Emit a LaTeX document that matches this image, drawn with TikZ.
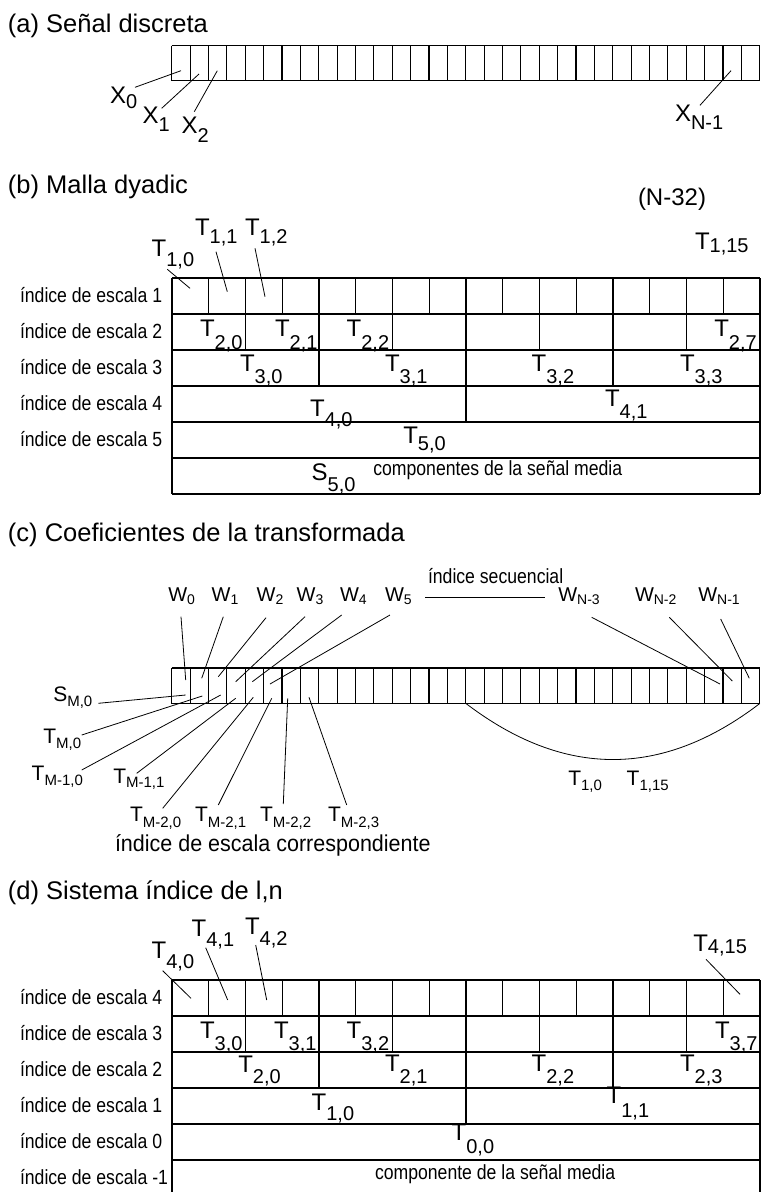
\documentclass[tikz,border=0pt]{standalone}
\usepackage{fontspec}
\setmainfont{Liberation Sans}
\newfontfamily\condf[FakeStretch=0.86]{Liberation Sans}
\newfontfamily\condg[FakeStretch=0.935]{Liberation Sans}
\newcommand\LabG[5]{{\fontsize{#3}{#3}\selectfont #1\raisebox{-#5pt}{\fontsize{#4}{#4}\selectfont #2}}}
\newcommand\LabB[3]{\LabG{#1}{#2}{24}{20}{#3}}
\newcommand\LabS[3]{\LabG{#1}{#2}{21}{15}{#3}}
\newcommand\LabW[2]{\LabG{W}{#1}{20}{14}{#2}}
\newcommand\DyGrid[2]{%
  \foreach \r in {0,...,5} \draw[gridl] (172,{#1+\r*36}) -- (760,{#1+\r*36});
  \draw[gridl] (172,#1) -- (172,#2) (760,#1) -- (760,#2);
  \foreach \i in {1,...,15} \draw[gridl] ({172+\i*36.75},#1) -- ({172+\i*36.75},{#1+36});
  \foreach \i in {2,4,...,14} \draw[gridl] ({172+\i*36.75},{#1+36}) -- ({172+\i*36.75},{#1+72});
  \foreach \i in {4,8,12} \draw[gridl] ({172+\i*36.75},{#1+72}) -- ({172+\i*36.75},{#1+108});
  \draw[gridl] (466,{#1+108}) -- (466,{#1+144});
}
\newcommand\Strip[2]{%
  \foreach \i in {0,...,32} \draw[gridl] ({171.7+\i*18.378},#1) -- ({171.7+\i*18.378},#2);
  \draw[gridl] (171.7,#1) -- (759.8,#1) (171.7,#2) -- (759.8,#2);
}
\tikzset{
  lb/.style={inner sep=0pt, outer sep=0pt, anchor=base west},
  ttl/.style={lb, font=\fontsize{25.5}{25.5}\selectfont},
  rowl/.style={lb, font=\condf\fontsize{20.5}{20.5}\selectfont},
  gridl/.style={line width=1.1pt},
  lead/.style={line width=0.8pt},
}
\begin{document}
\begin{tikzpicture}[x=1pt,y=-1pt]
\useasboundingbox[fill=white] (0,0) rectangle (761,1192);

% ---------------- (a)
\node[ttl] (ta) at (8,32.3) {(a) Señal discreta};
\Strip{45.7}{80.7}
\node[lb] (x0) at (110,103.3) {\LabB{X}{0}{5}};
\node[lb] (x1) at (142.7,123.3) {\LabB{X}{1}{8}};
\node[lb] (x2) at (181.7,133.3) {\LabB{X}{2}{9}};
\node[lb] (xn) at (675,121.7) {\LabB{X}{N-1}{8}};
\coordinate (x0s) at (135,87.3);  \coordinate (x0e) at (181,70.7);
\coordinate (x1s) at (161.7,108.3); \coordinate (x1e) at (199,74);
\coordinate (x2s) at (194.3,111.7); \coordinate (x2e) at (217.3,70.7);
\coordinate (xns) at (700,105.3); \coordinate (xne) at (731,70.7);
\draw[lead] (x0s) -- (x0e);
\draw[lead] (x1s) -- (x1e);
\draw[lead] (x2s) -- (x2e);
\draw[lead] (xns) -- (xne);

% ---------------- (b)
\node[ttl] (tb) at (8,193) {(b) Malla dyadic};
\node[lb, font=\fontsize{24}{24}\selectfont] (n32) at (638,205) {(N-32)};
\DyGrid{278}{494}
\draw[gridl] (172,494) -- (760,494);
\node[rowl] (rb1) at (20,302) {índice de escala 1};
\node[rowl] (rb2) at (20,338) {índice de escala 2};
\node[rowl] (rb3) at (20,374) {índice de escala 3};
\node[rowl] (rb4) at (20,410) {índice de escala 4};
\node[rowl] (rb5) at (20,446) {índice de escala 5};
\node[lb] (t10) at (151.7,256.7) {\LabB{T}{1,0}{10}};
\node[lb] (t11) at (195,235) {\LabB{T}{1,1}{8}};
\node[lb] (t12) at (245,235) {\LabB{T}{1,2}{8}};
\node[lb] (t115) at (695,249.3) {\LabB{T}{1,15}{3}};
\coordinate (t10s) at (167.3,269.3); \coordinate (t10e) at (190,288.3);
\coordinate (t11s) at (216,251.7); \coordinate (t11e) at (227.3,291.7);
\coordinate (t12s) at (255,248.3); \coordinate (t12e) at (265,296.7);
\draw[lead] (t10s) -- (t10e);
\draw[lead] (t11s) -- (t11e);
\draw[lead] (t12s) -- (t12e);
\node[lb] (t20) at (200,336) {\LabB{T}{2,0}{13}};
\node[lb] (t21) at (275,336) {\LabB{T}{2,1}{13}};
\node[lb] (t22) at (346.7,336) {\LabB{T}{2,2}{13}};
\node[lb] (t27) at (714.3,336) {\LabB{T}{2,7}{13}};
\node[lb] (t30) at (240,371.7) {\LabB{T}{3,0}{12}};
\node[lb] (t31) at (385,371.7) {\LabB{T}{3,1}{12}};
\node[lb] (t32) at (531.7,371.7) {\LabB{T}{3,2}{12}};
\node[lb] (t33) at (680,371.7) {\LabB{T}{3,3}{12}};
\node[lb] (t40) at (310,416.7) {\LabB{T}{4,0}{10}};
\node[lb] (t41) at (605,406.7) {\LabB{T}{4,1}{11.5}};
\node[lb] (t50) at (403.3,443.3) {\LabB{T}{5,0}{7}};
\node[lb] (s50) at (311.7,480) {\LabB{S}{5,0}{11}};
\node[rowl] (compb) at (373.3,475) {componentes de la señal media};

% ---------------- (c)
\node[ttl] (tc) at (8,541) {(c) Coeficientes de la transformada};
\node[rowl] (isec) at (428,583.3) {índice secuencial};
\Strip{668}{703.5}
\node[lb] (w0) at (168.3,601) {\LabW{0}{3}};
\node[lb] (w1) at (211.7,601) {\LabW{1}{3}};
\node[lb] (w2) at (256.7,601) {\LabW{2}{3}};
\node[lb] (w3) at (296.7,601) {\LabW{3}{3}};
\node[lb] (w4) at (340,601) {\LabW{4}{3}};
\node[lb] (w5) at (385,601) {\LabW{5}{3}};
\node[lb] (wn3) at (558.3,601) {\LabW{N-3}{3}};
\node[lb] (wn2) at (635,601) {\LabW{N-2}{3}};
\node[lb] (wn1) at (698.3,601) {\LabW{N-1}{3}};
\coordinate (wls) at (425,597.3); \coordinate (wle) at (545,597.3);
\draw[lead] (wls) -- (wle);
\coordinate (w0s) at (181,616.7);  \coordinate (w0e) at (185.7,680);
\coordinate (w1s) at (223.3,616.7); \coordinate (w1e) at (201.7,678.3);
\coordinate (w2s) at (266,617.7);  \coordinate (w2e) at (218.3,676.7);
\coordinate (w3s) at (305,616.7);  \coordinate (w3e) at (235.7,681.7);
\coordinate (w4s) at (341.7,615);  \coordinate (w4e) at (252.3,681.7);
\coordinate (w5s) at (390,615);    \coordinate (w5e) at (270,684);
\coordinate (wn3s) at (591.7,617.3); \coordinate (wn3e) at (720,684);
\coordinate (wn2s) at (669.3,617.3); \coordinate (wn2e) at (732.3,681);
\coordinate (wn1s) at (720.7,619);   \coordinate (wn1e) at (749.3,678.3);
\foreach \p in {w0,w1,w2,w3,w4,w5,wn3,wn2,wn1} \draw[lead] (\p s) -- (\p e);
\node[lb] (sm0) at (53.3,701.7) {\LabS{S}{M,0}{5}};
\node[lb] (tm0) at (43.3,743.3) {\LabS{T}{M,0}{5.5}};
\node[lb] (tm10) at (31.7,780.7) {\LabS{T}{M-1,0}{5}};
\node[lb] (tm11) at (113.3,783.3) {\LabS{T}{M-1,1}{4}};
\node[lb] (tm20) at (130,821.7) {\LabS{T}{M-2,0}{6}};
\node[lb] (tm21) at (195,821.7) {\LabS{T}{M-2,1}{6}};
\node[lb] (tm22) at (260,821.7) {\LabS{T}{M-2,2}{6}};
\node[lb] (tm23) at (328,821.7) {\LabS{T}{M-2,3}{6}};
\coordinate (sm0s) at (98.3,703.3); \coordinate (sm0e) at (185.7,695);
\coordinate (tm0s) at (81.7,735);   \coordinate (tm0e) at (202.3,696);
\coordinate (tm10s) at (81.7,770);  \coordinate (tm10e) at (220.7,695);
\coordinate (tm11s) at (136.7,773.3); \coordinate (tm11e) at (235.7,698.3);
\coordinate (tm20s) at (162.7,808.3); \coordinate (tm20e) at (253.3,697.3);
\coordinate (tm21s) at (218.3,805);   \coordinate (tm21e) at (271.7,698.3);
\coordinate (tm22s) at (283.3,804);   \coordinate (tm22e) at (287.7,698.3);
\coordinate (tm23s) at (346.7,805);   \coordinate (tm23e) at (309,697.3);
\foreach \p in {sm0,tm0,tm10,tm11,tm20,tm21,tm22,tm23} \draw[lead] (\p s) -- (\p e);
\coordinate (arcs) at (466,703.5); \coordinate (arce) at (759.8,703.5);
\draw[lead] (arcs) .. controls (564,778.2) and (662,778.2) .. (arce);
\node[lb] (c10) at (568.3,785) {\LabS{T}{1,0}{5}};
\node[lb] (c115) at (626.7,785) {\LabS{T}{1,15}{5}};
\node[lb, font=\condg\fontsize{23}{23}\selectfont] (iesc) at (115,851.7) {índice de escala correspondiente};

% ---------------- (d)
\node[ttl] (td) at (8,899) {(d) Sistema índice de l,n};
\DyGrid{980}{1192}
\node[rowl] (rd4) at (20,1004) {índice de escala 4};
\node[rowl] (rd3) at (20,1040) {índice de escala 3};
\node[rowl] (rd2) at (20,1076) {índice de escala 2};
\node[rowl] (rd1) at (20,1112) {índice de escala 1};
\node[rowl] (rd0) at (20,1148) {índice de escala 0};
\node[rowl] (rdm) at (20,1184) {índice de escala -1};
\node[lb] (u40) at (151.7,958.3) {\LabB{T}{4,0}{10}};
\node[lb] (u41) at (191.7,936.7) {\LabB{T}{4,1}{10}};
\node[lb] (u42) at (245,934) {\LabB{T}{4,2}{11}};
\node[lb] (u415) at (693.3,951.7) {\LabB{T}{4,15}{2}};
\coordinate (u40s) at (162.7,970.7); \coordinate (u40e) at (191,998.3);
\coordinate (u41s) at (205.7,947.7); \coordinate (u41e) at (227.7,1000);
\coordinate (u42s) at (255.7,945);   \coordinate (u42e) at (266.7,1000);
\coordinate (u415s) at (706,959.3);  \coordinate (u415e) at (740,994.3);
\foreach \p in {u40,u41,u42,u415} \draw[lead] (\p s) -- (\p e);
\node[lb] (u30) at (200,1038.3) {\LabB{T}{3,0}{12.5}};
\node[lb] (u31) at (274,1038.3) {\LabB{T}{3,1}{12.5}};
\node[lb] (u32) at (346.7,1038.3) {\LabB{T}{3,2}{12.5}};
\node[lb] (u37) at (715,1038.3) {\LabB{T}{3,7}{12.5}};
\node[lb] (u20) at (238.3,1072) {\LabB{T}{2,0}{11}};
\node[lb] (u21) at (385,1071) {\LabB{T}{2,1}{12}};
\node[lb] (u22) at (531.7,1071) {\LabB{T}{2,2}{12}};
\node[lb] (u23) at (680,1071) {\LabB{T}{2,3}{12}};
\node[lb] (u10) at (311.7,1110) {\LabB{T}{1,0}{10}};
\node[lb] (u11) at (606.7,1103) {\LabB{T}{1,1}{14}};
\node[lb] (u00) at (451.7,1140) {\LabB{T}{0,0}{13}};
\node[rowl] (compd) at (375,1179.3) {componente de la señal media};
\end{tikzpicture}
\end{document}
